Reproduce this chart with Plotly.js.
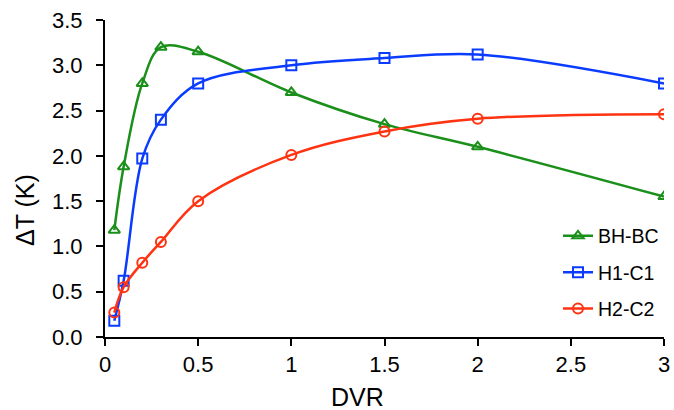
<!DOCTYPE html>
<html>
<head>
<meta charset="utf-8">
<script src="https://cdn.plot.ly/plotly-3.0.1.min.js"></script>
<style>html,body{margin:0;padding:0;background:#fff}#chart{width:674px;height:410px}</style>
</head>
<body>
<div id="chart"></div>
<script>
var dvr = [0.05, 0.1, 0.2, 0.3, 0.5, 1, 1.5, 2, 3];
var bhbc = [1.18, 1.88, 2.80, 3.20, 3.15, 2.70, 2.35, 2.10, 1.55];
var h1c1 = [0.18, 0.62, 1.97, 2.40, 2.80, 3.00, 3.08, 3.12, 2.80];
var h2c2 = [0.27, 0.55, 0.82, 1.05, 1.50, 2.01, 2.27, 2.41, 2.46];
var seriesNames = ['BH-BC', 'H1-C1', 'H2-C2'];
var xTicks = [0, 0.5, 1, 1.5, 2, 2.5, 3];
var xTickText = ['0', '0.5', '1', '1.5', '2', '2.5', '3'];
var yTicks = [0, 0.5, 1, 1.5, 2, 2.5, 3, 3.5];
var yTickText = ['0.0', '0.5', '1.0', '1.5', '2.0', '2.5', '3.0', '3.5'];

function tr(y, name, color, symbol, grp) {
  return {
    x: dvr, y: y, name: name, type: 'scatter', mode: 'lines+markers',
    legendgroup: grp,
    line: {color: color, width: 2.5, shape: 'spline', smoothing: 1},
    marker: {symbol: symbol, size: 10, color: color, line: {color: color, width: 2}}
  };
}
var data = [
  tr(bhbc, seriesNames[0], '#1a8f1a', 'triangle-up-open', 'a'),
  tr(h1c1, seriesNames[1], '#0a3cff', 'square-open', 'b'),
  tr(h2c2, seriesNames[2], '#ff3311', 'circle-open', 'c')
];
var font = 'Liberation Sans, Arial, sans-serif';
var layout = {
  width: 674, height: 410,
  margin: {l: 105, r: 10, t: 20, b: 73},
  paper_bgcolor: '#fff', plot_bgcolor: '#fff',
  font: {family: font, color: '#000'},
  showlegend: true,
  legend: {x: 1.0, y: 0.3795, xanchor: 'right', yanchor: 'top', bgcolor: 'rgba(0,0,0,0)',
    font: {size: 19.5, family: font}, tracegroupgap: 8, traceorder: 'grouped',
    itemwidth: 30},
  xaxis: {range: [0, 3], tickvals: xTicks, ticktext: xTickText, ticks: 'outside', ticklen: 7, tickwidth: 2,
    tickcolor: '#000', showline: true, linecolor: '#000', linewidth: 2, showgrid: false, zeroline: false,
    tickfont: {size: 22, family: font}, fixedrange: true, automargin: false},
  yaxis: {range: [0, 3.5], tickvals: yTicks, ticktext: yTickText, ticks: 'outside', ticklen: 7, tickwidth: 2,
    tickcolor: '#000', showline: true, linecolor: '#000', linewidth: 2, showgrid: false, zeroline: false,
    tickfont: {size: 22, family: font}, ticklabelstandoff: 9, fixedrange: true, automargin: false},
  annotations: [
    {text: 'DVR', xref: 'paper', yref: 'paper', x: (357 - 105) / 559, y: -(397 - 337) / 317,
     xanchor: 'center', yanchor: 'middle', showarrow: false, font: {size: 25, family: font}},
    {text: 'ΔT (K)', xref: 'paper', yref: 'paper', x: -(105 - 25) / 559, y: (337 - 210) / 317,
     xanchor: 'center', yanchor: 'middle', textangle: -90, showarrow: false, font: {size: 25, family: font}}
  ]
};
Plotly.newPlot('chart', data, layout, {displayModeBar: false, staticPlot: true});
</script>
</body>
</html>
